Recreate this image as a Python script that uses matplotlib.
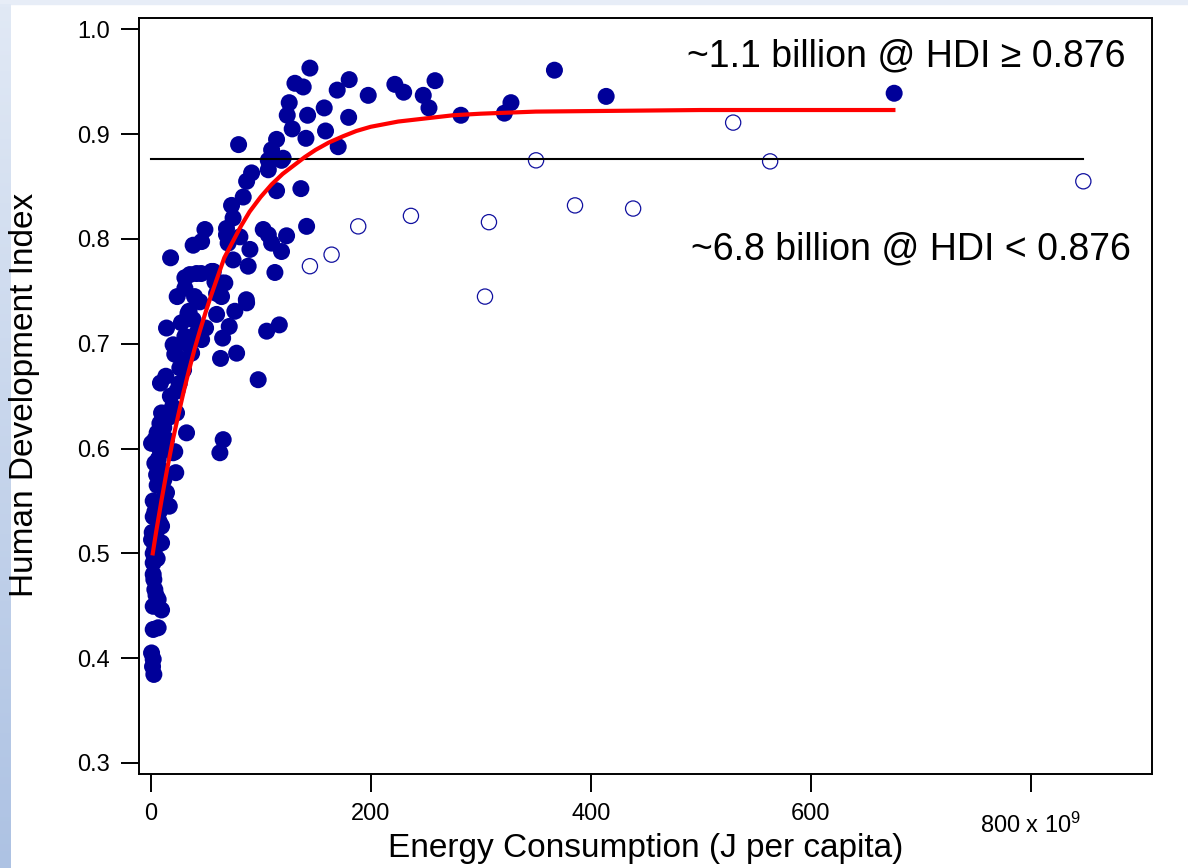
import numpy as np
import matplotlib.pyplot as plt
from matplotlib.patches import Rectangle
from matplotlib.colors import LinearSegmentedColormap
from matplotlib.transforms import ScaledTranslation

plt.rcParams['font.family'] = ['Liberation Sans', 'DejaVu Sans']
plt.rcParams['mathtext.fontset'] = 'custom'
plt.rcParams['mathtext.rm'] = 'Liberation Sans'
plt.rcParams['mathtext.it'] = 'Liberation Sans'

# countries with filled markers (energy in 1e9 J per capita, HDI)
filled_x = [0.9, 20.5, 3.9, 22.9, 5.5, 14.5, 2.4, 17, 2.4, 10, 0.9, 10, 2.4, 2.4, 2.4,
            3.9, 6.9, 2.4, 10, 2.4, 6.9, 0.9, 2.4, 1.8, 3,
            6, 8, 12, 5, 7, 11, 4, 9, 13, 6, 3, 5, 8, 1.5, 4,
            10, 23.6, 8.5, 32.7, 3.9, 14.5, 8.5, 22, 66, 63, 12, 17, 6,
            18.2, 38.7, 35.7, 41.8, 55.5, 31.2, 24.2, 44.8, 35, 38.7, 58.5, 64.5, 64.5,
            60, 76.6, 87.3, 71.5, 65.5, 78.2, 63.6, 14.5, 20.5, 31.2, 46.4, 28.2, 37.3,
            26.6, 13.9, 9, 26, 97.8, 105.5, 117, 113, 119, 90.3, 70.5, 34, 31.2,
            28, 40, 33, 42, 50, 22, 30, 18, 24, 20,
            110, 120.5, 91.8, 107, 87.3, 114.5, 136.6, 84.2, 73.6, 75, 69, 69, 81.2,
            102.4, 107, 123.6, 141.8, 110, 75, 88.7, 49.4, 57, 46.4, 67.5, 46, 87, 60,
            144.8, 131.2, 138.7, 126, 124.2, 128.7, 142.7, 141.2, 157.8, 169.6, 180.5,
            180, 159, 170.5, 197.8, 222, 230, 80, 114.5, 107, 119,
            247.8, 258.5, 253, 282, 321.5, 327.5, 367, 414, 675.7]
filled_y = [0.605, 0.596, 0.586, 0.577, 0.575, 0.558, 0.550, 0.545, 0.535, 0.526, 0.513,
            0.510, 0.500, 0.491, 0.480, 0.4655, 0.456, 0.4495, 0.446, 0.4274, 0.429, 0.405,
            0.399, 0.392, 0.3845,
            0.565, 0.54, 0.57, 0.52, 0.59, 0.545, 0.505, 0.58, 0.555, 0.495, 0.475, 0.46,
            0.53, 0.52, 0.54,
            0.634, 0.634, 0.624, 0.615, 0.6085, 0.6085, 0.599, 0.597, 0.6085, 0.596, 0.62,
            0.63, 0.615,
            0.782, 0.794, 0.766, 0.767, 0.769, 0.753, 0.745, 0.740, 0.731, 0.723, 0.759,
            0.758, 0.745, 0.728, 0.731, 0.739, 0.7165, 0.7054, 0.691, 0.686, 0.715, 0.699,
            0.707, 0.704, 0.685, 0.691, 0.677, 0.669, 0.6625, 0.662, 0.6657, 0.712, 0.718,
            0.768, 0.788, 0.790, 0.796, 0.729, 0.763,
            0.72, 0.745, 0.70, 0.71, 0.715, 0.69, 0.675, 0.65, 0.655, 0.64,
            0.885, 0.877, 0.863, 0.866, 0.855, 0.846, 0.848, 0.840, 0.832, 0.820, 0.810,
            0.804, 0.802, 0.809, 0.804, 0.803, 0.812, 0.796, 0.780, 0.774, 0.809, 0.769,
            0.7975, 0.758, 0.767, 0.742, 0.748,
            0.963, 0.9485, 0.945, 0.930, 0.918, 0.905, 0.918, 0.896, 0.925, 0.942, 0.952,
            0.916, 0.903, 0.888, 0.937, 0.9475, 0.940, 0.890, 0.895, 0.875, 0.875,
            0.937, 0.951, 0.925, 0.918, 0.920, 0.930, 0.961, 0.936, 0.939]

# open markers
open_x = [144.8, 164.5, 188.7, 236.6, 307.5, 303.9, 350.3, 385.7, 438.5, 529.4, 563, 847.6]
open_y = [0.774, 0.785, 0.812, 0.822, 0.816, 0.745, 0.875, 0.832, 0.829, 0.911, 0.874, 0.855]

# fitted curve
fit_x = [2, 5, 10, 15, 20, 25, 30, 35, 40, 45, 50, 55, 60, 67, 75, 82, 90, 100, 110,
         120, 130, 140, 150, 162, 175, 187, 200, 225, 250, 275, 300, 350, 400, 500, 675]
fit_y = [0.500, 0.520, 0.551, 0.580, 0.607, 0.631, 0.654, 0.675, 0.695, 0.713, 0.730,
         0.746, 0.761, 0.782, 0.798, 0.812, 0.826, 0.840, 0.852, 0.862, 0.870, 0.878,
         0.885, 0.892, 0.898, 0.903, 0.907, 0.912, 0.915, 0.918, 0.9195, 0.9215, 0.922,
         0.923, 0.923]

threshold = 0.876
threshold_x = [0, 847]

xticks = [0, 200, 400, 600, 800]
xticklabels = ['0', '200', '400', '600', '800 x 10$^{9}$']
yticks = [0.3, 0.4, 0.5, 0.6, 0.7, 0.8, 0.9, 1.0]

W, H = 1188, 868
fig = plt.figure(figsize=(W / 100, H / 100), dpi=100)
fig.patch.set_facecolor('white')

# slide background strips
fig.patches.append(Rectangle((0, 1 - 4 / H), 1, 4 / H, transform=fig.transFigure,
                             color='#e7edf7', zorder=-2))
bg = fig.add_axes([0, 0, 11 / W, 1 - 4 / H], zorder=-1)
cmap = LinearSegmentedColormap.from_list('strip', ['#e1e9f5', '#adc2e3'])
bg.imshow(np.linspace(0, 1, 256)[:, None], aspect='auto', cmap=cmap)
bg.axis('off')

ax = fig.add_axes([139 / W, 1 - 774 / H, (1152 - 139) / W, (774 - 18) / H])

ax.scatter(filled_x, filled_y, s=150, color='#000099', edgecolors='none', zorder=2)
ax.scatter(open_x, open_y, s=120, facecolors='none', edgecolors='#10109f',
           linewidths=0.9, zorder=2)
ax.plot(threshold_x, [threshold, threshold], color='black', lw=1.5, zorder=3)
ax.plot(fit_x, fit_y, color='#ff0000', lw=3, zorder=4)

ax.text(885.7, 0.9643, '~1.1 billion @ HDI \u2265 0.876', fontsize=27,
        ha='right', va='baseline')
ax.text(891.2, 0.780, '~6.8 billion @ HDI < 0.876', fontsize=27,
        ha='right', va='baseline')

ax.set_xlim(-10.5, 910)
ax.set_ylim(0.2895, 1.0108)
ax.set_xticks(xticks)
ax.set_xticklabels(xticklabels)
ax.set_yticks(yticks)
ax.set_yticklabels(['%.1f' % v for v in yticks])
ax.tick_params(direction='out', length=13, width=1.4, labelsize=17, pad=8,
               colors='black')
for sp in ax.spines.values():
    sp.set_linewidth(1.4)

# the last x label sits a bit lower in the original
last = ax.get_xticklabels()[-1]
last.set_transform(last.get_transform() + ScaledTranslation(0, -0.1, fig.dpi_scale_trans))

fig.text(25 / W, 1 - 395 / H, 'Human Development Index', rotation=90,
         fontsize=24, ha='center', va='center')
fig.text(646 / W, 1 - 849 / H, 'Energy Consumption (J per capita)',
         fontsize=24, ha='center', va='center')

fig.savefig('out.png', dpi=100)
